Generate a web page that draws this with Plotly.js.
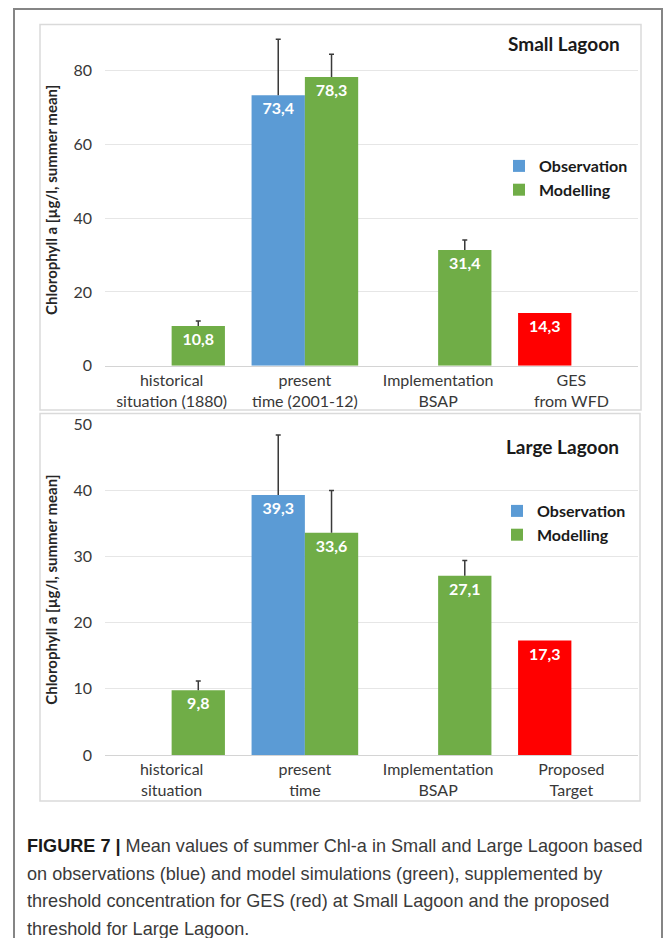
<!DOCTYPE html>
<html><head><meta charset="utf-8">
<script src="https://cdn.plot.ly/plotly-3.0.1.min.js"></script>
<style>
html,body{margin:0;padding:0;background:#fff;overflow:hidden;width:670px;height:938px}
#frame{position:absolute;left:13px;top:8px;width:650px;height:1000px;border:2px solid #858585;box-sizing:border-box}
#chart{position:absolute;left:0;top:0;width:670px;height:810px}
#caption{position:absolute;left:27px;top:833px;font-family:"Liberation Sans",Arial,sans-serif;font-size:18.1px;line-height:27.5px;color:#3a3a3a;white-space:nowrap}
#caption b{color:#1a1a1a}
</style></head><body>
<div id="frame"></div>
<div id="chart"></div>
<div id="caption"><b>FIGURE 7 |</b> Mean values of summer Chl-a in Small and Large Lagoon based<br>on observations (blue) and model simulations (green), supplemented by<br>threshold concentration for GES (red) at Small Lagoon and the proposed<br>threshold for Large Lagoon.</div>
<script>
// ---- data ----
const smallCategories = ['historical<br>situation (1880)', 'present<br>time (2001-12)', 'Implementation<br>BSAP', 'GES<br>from WFD'];
const largeCategories = ['historical<br>situation', 'present<br>time', 'Implementation<br>BSAP', 'Proposed<br>Target'];

const smallObservation    = [null, 73.4, null, null];
const smallObservationErr = [null, 15.2, null, null];
const smallModelling      = [10.8, 78.3, 31.4, null];
const smallModellingErr   = [1.3, 6.2, 2.7, null];
const smallThreshold      = [null, null, null, 14.3];

const largeObservation    = [null, 39.3, null, null];
const largeObservationErr = [null, 9.1, null, null];
const largeModelling      = [9.8, 33.6, 27.1, null];
const largeModellingErr   = [1.4, 6.4, 2.3, null];
const largeThreshold      = [null, null, null, 17.3];

const panelTitles = ['Small Lagoon', 'Large Lagoon'];
const seriesNames = ['Observation', 'Modelling'];
const yTitle = 'Chlorophyll a [µg/l, summer mean]';

// ---- styles ----
const BLUE = '#5b9bd5', GREEN = '#70ad47', RED = '#ff0000';
const FONT = 'Lato, "Open Sans", sans-serif';
const W = 670, H = 810, ML = 105, MR = 32, MT = 34, MB = 55;
const PW = W - ML - MR, PH = H - MT - MB;
const px2x = p => (p - ML) / PW;
const px2y = p => (H - MB - p) / PH;

const fmt = a => a.map(v => v == null ? '' : v.toFixed(1).replace('.', ','));
const zeros = a => a.map(() => 0);

function bar(x, y, err, name, color, group, xa, ya, legend, showlegend) {
  const t = {
    type: 'bar', x: x, y: y, name: name, offsetgroup: group,
    xaxis: xa, yaxis: ya, legend: legend, showlegend: showlegend,
    marker: {color: color, line: {width: 0}},
    text: fmt(y), textposition: 'inside', insidetextanchor: 'end', textangle: 0,
    textfont: {family: FONT, size: 16, color: '#ffffff', weight: 'bold'},
    cliponaxis: false, hoverinfo: 'x+y'
  };
  if (err) {
    t.error_y = {type: 'data', symmetric: false, array: err, arrayminus: zeros(err),
                 color: '#3a3a3a', thickness: 1.5, width: 2.5};
  }
  return t;
}

const data = [
  bar(smallCategories, smallObservation, smallObservationErr, seriesNames[0], BLUE, 'obs', 'x', 'y', 'legend', true),
  bar(smallCategories, smallModelling, smallModellingErr, seriesNames[1], GREEN, 'mod', 'x', 'y', 'legend', true),
  bar(smallCategories, smallThreshold, null, 'GES', RED, 'obs', 'x', 'y', 'legend', false),
  bar(largeCategories, largeObservation, largeObservationErr, seriesNames[0], BLUE, 'obs', 'x2', 'y2', 'legend2', true),
  bar(largeCategories, largeModelling, largeModellingErr, seriesNames[1], GREEN, 'mod', 'x2', 'y2', 'legend2', true),
  bar(largeCategories, largeThreshold, null, 'Proposed Target', RED, 'obs', 'x2', 'y2', 'legend2', false)
];

const tickfont = {family: FONT, size: 16, color: '#383838'};
function xaxis(anchor, cats) {
  return {anchor: anchor, domain: [0, 1], type: 'category', categoryorder: 'array', categoryarray: cats,
          showgrid: false, showline: true, linecolor: '#d4d4d4', linewidth: 1, ticks: '',
          tickfont: tickfont, fixedrange: true};
}
function yaxis(anchor, domain, range, dtick) {
  return {anchor: anchor, domain: domain, range: range, dtick: dtick, tick0: 0,
          showgrid: true, gridcolor: '#e6e6e6', gridwidth: 1, zeroline: false, showline: false,
          ticks: '', tickfont: tickfont, ticklabelstandoff: 12, fixedrange: true,
          title: {text: yTitle, font: {family: FONT, size: 15, color: '#262626', weight: 'bold'}, standoff: 12}};
}
const legendFont = {family: FONT, size: 16, color: '#1a1a1a', weight: 'bold'};

const layout = {
  width: W, height: H,
  margin: {l: ML, r: MR, t: MT, b: MB, pad: 0},
  paper_bgcolor: 'rgba(0,0,0,0)', plot_bgcolor: 'rgba(0,0,0,0)',
  barmode: 'group', bargap: 0.2, bargroupgap: 0,
  font: {family: FONT, color: '#404040'},
  xaxis: xaxis('y', smallCategories),
  yaxis: yaxis('x', [px2y(365.7), 1], [0, 90], 20),
  xaxis2: xaxis('y2', largeCategories),
  yaxis2: yaxis('x2', [0, px2y(424.3)], [0, 50], 10),
  legend: {x: px2x(499), y: px2y(149), xanchor: 'left', yanchor: 'top', bgcolor: 'rgba(0,0,0,0)',
           font: legendFont, tracegroupgap: 0, itemclick: false, itemdoubleclick: false},
  legend2: {x: px2x(497), y: px2y(494), xanchor: 'left', yanchor: 'top', bgcolor: 'rgba(0,0,0,0)',
            font: legendFont, tracegroupgap: 0, itemclick: false, itemdoubleclick: false},
  annotations: [
    {text: panelTitles[0], xref: 'paper', yref: 'paper', x: px2x(622), y: px2y(43), xanchor: 'right', yanchor: 'middle',
     showarrow: false, font: {family: FONT, size: 19, color: '#1a1a1a', weight: 'bold'}},
    {text: panelTitles[1], xref: 'paper', yref: 'paper', x: px2x(621), y: px2y(446), xanchor: 'right', yanchor: 'middle',
     showarrow: false, font: {family: FONT, size: 19, color: '#1a1a1a', weight: 'bold'}}
  ],
  shapes: [
    {type: 'rect', xref: 'paper', yref: 'paper', x0: px2x(40), x1: px2x(641), y0: px2y(410), y1: px2y(24.5),
     line: {color: '#dadada', width: 1.5}, layer: 'below'},
    {type: 'rect', xref: 'paper', yref: 'paper', x0: px2x(40), x1: px2x(640), y0: px2y(801), y1: px2y(413.5),
     line: {color: '#dadada', width: 1.5}, layer: 'below'}
  ]
};

Plotly.newPlot('chart', data, layout, {displayModeBar: false, staticPlot: true}).then(gd => {
  // plus-only error bars (as in the source chart): drop the cap drawn at the bar end
  gd.querySelectorAll('g.errorbar path.yerror').forEach(p => {
    const d = p.getAttribute('d');
    if (d) p.setAttribute('d', d.replace(/m-[\d.]+,0h[\d.]+$/, ''));
  });
});
</script>
</body></html>
